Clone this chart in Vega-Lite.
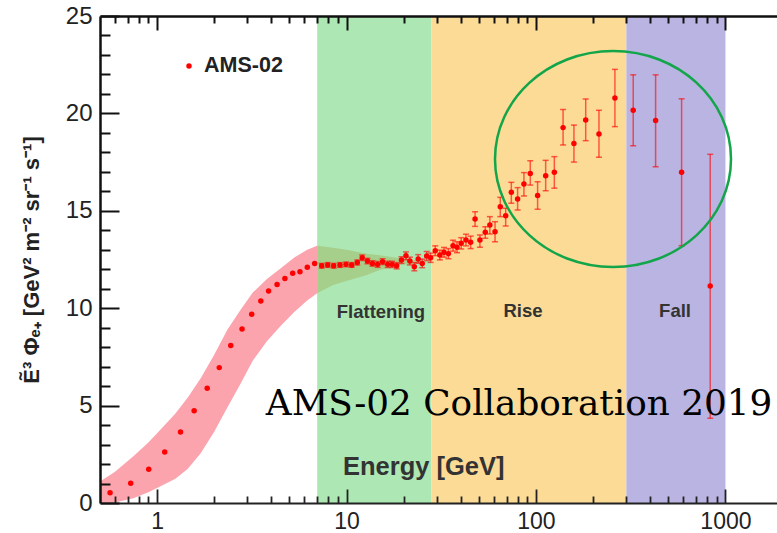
{
  "$schema": "https://vega.github.io/schema/vega-lite/v6.json",
  "width": 677,
  "height": 487,
  "autosize": {"type": "none"},
  "padding": {"left": 100, "top": 16, "right": 0, "bottom": 30},
  "background": "white",
  "datasets": {
    "bands": [
      {"lo": 7, "hi": 28, "region": "Flattening", "y0": 0, "y1": 25},
      {"lo": 28, "hi": 300, "region": "Rise", "y0": 0, "y1": 25},
      {"lo": 300, "hi": 1000, "region": "Fall", "y0": 0, "y1": 25}
    ],
    "model": [
      {"E": 0.5, "lo": 0, "hi": 1.1, "seg": "low"},
      {"E": 0.6, "lo": 0.02, "hi": 1.6, "seg": "low"},
      {"E": 0.75, "lo": 0.25, "hi": 2.4, "seg": "low"},
      {"E": 0.9, "lo": 0.55, "hi": 3.1, "seg": "low"},
      {"E": 1.05, "lo": 0.87, "hi": 3.8, "seg": "low"},
      {"E": 1.25, "lo": 1.25, "hi": 4.6, "seg": "low"},
      {"E": 1.45, "lo": 1.75, "hi": 5.4, "seg": "low"},
      {"E": 1.7, "lo": 2.55, "hi": 6.4, "seg": "low"},
      {"E": 2.0, "lo": 3.65, "hi": 7.6, "seg": "low"},
      {"E": 2.35, "lo": 4.9, "hi": 8.9, "seg": "low"},
      {"E": 2.75, "lo": 6.1, "hi": 9.9, "seg": "low"},
      {"E": 3.2, "lo": 7.3, "hi": 10.8, "seg": "low"},
      {"E": 3.8, "lo": 8.3, "hi": 11.5, "seg": "low"},
      {"E": 4.5, "lo": 9.1, "hi": 12.05, "seg": "low"},
      {"E": 5.3, "lo": 9.8, "hi": 12.6, "seg": "low"},
      {"E": 6.2, "lo": 10.4, "hi": 13.0, "seg": "low"},
      {"E": 7.0, "lo": 10.77, "hi": 13.2, "seg": "low"},
      {"E": 7.0, "lo": 10.77, "hi": 13.2, "seg": "mid"},
      {"E": 8.5, "lo": 11.19, "hi": 13.1, "seg": "mid"},
      {"E": 10, "lo": 11.4, "hi": 13.0, "seg": "mid"},
      {"E": 12.8, "lo": 11.7, "hi": 12.8, "seg": "mid"},
      {"E": 15, "lo": 11.96, "hi": 12.72, "seg": "mid"},
      {"E": 19.2, "lo": 12.22, "hi": 12.56, "seg": "mid"},
      {"E": 24, "lo": 12.32, "hi": 12.45, "seg": "mid"},
      {"E": 28, "lo": 12.38, "hi": 12.4, "seg": "mid"}
    ],
    "ams": [
      {"E": 0.565, "v": 0.53}, {"E": 0.726, "v": 1.01}, {"E": 0.904, "v": 1.73},
      {"E": 1.098, "v": 2.62}, {"E": 1.33, "v": 3.64}, {"E": 1.57, "v": 4.74},
      {"E": 1.84, "v": 5.89}, {"E": 2.13, "v": 6.95}, {"E": 2.45, "v": 8.09},
      {"E": 2.81, "v": 8.93}, {"E": 3.16, "v": 9.69}, {"E": 3.53, "v": 10.37},
      {"E": 3.88, "v": 10.88}, {"E": 4.3, "v": 11.22}, {"E": 4.73, "v": 11.53},
      {"E": 5.2, "v": 11.79}, {"E": 5.68, "v": 11.87}, {"E": 6.21, "v": 12.1},
      {"E": 6.79, "v": 12.3},
      {"E": 7.4, "v": 12.18, "lo": 12.06, "hi": 12.3},
      {"E": 7.96, "v": 12.22, "lo": 12.1, "hi": 12.34},
      {"E": 8.56, "v": 12.18, "lo": 12.06, "hi": 12.3},
      {"E": 9.24, "v": 12.22, "lo": 12.1, "hi": 12.34},
      {"E": 9.94, "v": 12.25, "lo": 12.13, "hi": 12.37},
      {"E": 10.65, "v": 12.22, "lo": 12.1, "hi": 12.34},
      {"E": 11.4, "v": 12.35, "lo": 12.22, "hi": 12.48},
      {"E": 12.1, "v": 12.59, "lo": 12.45, "hi": 12.73},
      {"E": 12.9, "v": 12.42, "lo": 12.28, "hi": 12.56},
      {"E": 13.7, "v": 12.3, "lo": 12.16, "hi": 12.44},
      {"E": 14.6, "v": 12.25, "lo": 12.1, "hi": 12.4},
      {"E": 15.5, "v": 12.39, "lo": 12.24, "hi": 12.54},
      {"E": 16.5, "v": 12.25, "lo": 12.09, "hi": 12.41},
      {"E": 17.4, "v": 12.25, "lo": 12.09, "hi": 12.41},
      {"E": 18.4, "v": 12.18, "lo": 12.02, "hi": 12.34},
      {"E": 19.5, "v": 12.47, "lo": 12.3, "hi": 12.64},
      {"E": 20.6, "v": 12.69, "lo": 12.49, "hi": 12.89},
      {"E": 21.6, "v": 12.42, "lo": 12.22, "hi": 12.62},
      {"E": 22.8, "v": 12.13, "lo": 11.92, "hi": 12.34},
      {"E": 23.9, "v": 12.53, "lo": 12.31, "hi": 12.75},
      {"E": 25.1, "v": 12.3, "lo": 12.08, "hi": 12.52},
      {"E": 26.5, "v": 12.68, "lo": 12.45, "hi": 12.91},
      {"E": 27.8, "v": 12.59, "lo": 12.35, "hi": 12.83},
      {"E": 29.4, "v": 12.95, "lo": 12.7, "hi": 13.2},
      {"E": 31.1, "v": 12.73, "lo": 12.48, "hi": 12.98},
      {"E": 32.7, "v": 12.87, "lo": 12.62, "hi": 13.12},
      {"E": 34.5, "v": 12.8, "lo": 12.54, "hi": 13.06},
      {"E": 36.5, "v": 13.21, "lo": 12.93, "hi": 13.49},
      {"E": 38.3, "v": 13.13, "lo": 12.85, "hi": 13.41},
      {"E": 40.3, "v": 13.33, "lo": 13.04, "hi": 13.62},
      {"E": 42.7, "v": 13.5, "lo": 13.2, "hi": 13.8},
      {"E": 45.2, "v": 13.38, "lo": 13.06, "hi": 13.7},
      {"E": 47.7, "v": 14.58, "lo": 14.2, "hi": 14.95},
      {"E": 50.6, "v": 13.5, "lo": 13.13, "hi": 13.76},
      {"E": 54, "v": 13.9, "lo": 13.59, "hi": 14.18},
      {"E": 57.1, "v": 14.27, "lo": 13.81, "hi": 14.7},
      {"E": 60.8, "v": 13.93, "lo": 13.41, "hi": 14.44},
      {"E": 64.8, "v": 15.21, "lo": 14.7, "hi": 15.69},
      {"E": 69.2, "v": 14.75, "lo": 14.22, "hi": 15.13},
      {"E": 74.1, "v": 15.95, "lo": 15.39, "hi": 16.46},
      {"E": 80, "v": 15.6, "lo": 15.04, "hi": 16.19},
      {"E": 86.4, "v": 16.38, "lo": 15.76, "hi": 16.96},
      {"E": 93.3, "v": 16.92, "lo": 16.32, "hi": 17.57},
      {"E": 102, "v": 15.78, "lo": 15.08, "hi": 16.49},
      {"E": 112.5, "v": 16.8, "lo": 16.03, "hi": 17.59},
      {"E": 125, "v": 16.98, "lo": 16.16, "hi": 17.78},
      {"E": 139, "v": 19.27, "lo": 18.38, "hi": 20.2},
      {"E": 158.6, "v": 18.45, "lo": 17.5, "hi": 19.4},
      {"E": 183, "v": 19.66, "lo": 18.6, "hi": 20.74},
      {"E": 215, "v": 18.94, "lo": 17.75, "hi": 20.16},
      {"E": 261, "v": 20.79, "lo": 19.32, "hi": 22.26},
      {"E": 326, "v": 20.16, "lo": 18.34, "hi": 21.98},
      {"E": 428, "v": 19.63, "lo": 17.26, "hi": 21.98},
      {"E": 587, "v": 16.98, "lo": 13.21, "hi": 20.75},
      {"E": 831, "v": 11.14, "lo": 4.35, "hi": 17.9}
    ],
    "labels": [
      {"E": 15.2, "v": 9.8, "t": "Flattening", "kind": "region"},
      {"E": 85.4, "v": 9.86, "t": "Rise", "kind": "region"},
      {"E": 542, "v": 9.86, "t": "Fall", "kind": "region"},
      {"E": 9.58, "v": 1.85, "t": "Energy [GeV]", "kind": "xtitle"},
      {"E": 81.4, "v": 4.52, "t": "AMS-02 Collaboration 2019", "kind": "credit"},
      {"E": 1.77, "v": 22.43, "t": "AMS-02", "kind": "legend"}
    ],
    "legenddot": [{"E": 1.475, "v": 22.43}],
    "highlight": [{"E": 255, "v": 17.66}]
  },
  "layer": [
    {
      "data": {"name": "bands"},
      "mark": {"type": "rect"},
      "encoding": {
        "x": {"field": "lo", "type": "quantitative", "scale": {"type": "log", "domain": [0.5, 1871], "nice": false},
          "axis": {"orient": "bottom", "values": [0.6, 0.7, 0.8, 0.9, 1, 2, 3, 4, 5, 6, 7, 8, 9, 10, 20, 30, 40, 50, 60, 70, 80, 90, 100, 200, 300, 400, 500, 600, 700, 800, 900, 1000], "format": "d",
            "labelExpr": "(datum.value == 1 || datum.value == 10 || datum.value == 100 || datum.value == 1000) ? datum.label : ''",
            "tickSize": {"condition": {"test": "datum.value == 1 || datum.value == 10 || datum.value == 100 || datum.value == 1000", "value": -14}, "value": -7},
            "domainColor": "#222222", "domainWidth": 2, "tickColor": "#222222", "tickWidth": 1.8,
            "labelPadding": 21, "title": null, "zindex": 2, "labelOverlap": false, "labelFlush": false}},
        "x2": {"field": "hi"},
        "y": {"field": "y0", "type": "quantitative", "scale": {"domain": [0, 25], "nice": false, "zero": true},
          "axis": {"orient": "left", "values": [0, 1, 2, 3, 4, 5, 6, 7, 8, 9, 10, 11, 12, 13, 14, 15, 16, 17, 18, 19, 20, 21, 22, 23, 24, 25],
            "labelExpr": "datum.value % 5 == 0 ? datum.label : ''",
            "tickSize": {"condition": {"test": "datum.value % 5 == 0", "value": -19}, "value": -10},
            "domainColor": "#111111", "domainWidth": 2.5, "tickColor": "#111111", "tickWidth": 2,
            "labelPadding": 27, "labelFontSize": 24, "zindex": 2, "labelOverlap": false, "labelFlush": false,
            "title": "Ẽ³ Φₑ₊ [GeV² m⁻² sr⁻¹ s⁻¹]", "titleFont": "Liberation Sans", "titleFontSize": 22, "titleFontWeight": "bold", "titleColor": "#222", "titlePadding": 22}},
        "y2": {"field": "y1"},
        "color": {"field": "region", "type": "nominal", "scale": {"domain": ["Flattening", "Rise", "Fall"], "range": ["#ade8b4", "#fbdb96", "#b9b4e1"]}, "legend": null}
      }
    },
    {
      "data": {"name": "legenddot"},
      "mark": {"type": "point", "filled": true, "size": 30, "color": "#ff0000", "opacity": 1},
      "encoding": {
        "x": {"field": "E", "type": "quantitative", "scale": {"type": "log", "domain": [0.5, 1871], "nice": false},
          "axis": {"orient": "top", "values": [0.6, 0.7, 0.8, 0.9, 1, 2, 3, 4, 5, 6, 7, 8, 9, 10, 20, 30, 40, 50, 60, 70, 80, 90, 100, 200, 300, 400, 500, 600, 700, 800, 900, 1000],
            "tickSize": {"condition": {"test": "datum.value == 1 || datum.value == 10 || datum.value == 100 || datum.value == 1000", "value": -14}, "value": -7},
            "domainColor": "#111111", "domainWidth": 2.5, "tickColor": "#111111", "tickWidth": 2,
            "labels": false, "title": null, "zindex": 2}},
        "y": {"field": "v", "type": "quantitative", "scale": {"domain": [0, 25], "nice": false}, "axis": null}
      }
    },
    {
      "data": {"name": "model"},
      "mark": {"type": "area", "opacity": 1},
      "encoding": {
        "x": {"field": "E", "type": "quantitative", "scale": {"type": "log", "domain": [0.5, 1871], "nice": false}, "axis": null},
        "y": {"field": "lo", "type": "quantitative", "scale": {"domain": [0, 25], "nice": false, "zero": true}, "axis": null},
        "y2": {"field": "hi"},
        "color": {"field": "seg", "type": "nominal", "scale": {"domain": ["low", "mid"], "range": ["#fba4ae", "#a6cf8c"]}, "legend": null}
      }
    },
    {
      "data": {"name": "ams"},
      "transform": [{"filter": "isValid(datum.lo)"}],
      "mark": {"type": "errorbar", "ticks": true, "size": 6, "thickness": 1.5, "color": "#ff0000", "opacity": 0.6},
      "encoding": {
        "x": {"field": "E", "type": "quantitative", "scale": {"type": "log", "domain": [0.5, 1871], "nice": false}, "axis": null},
        "y": {"field": "lo", "type": "quantitative", "scale": {"domain": [0, 25], "nice": false}, "axis": null},
        "y2": {"field": "hi"}
      }
    },
    {
      "data": {"name": "ams"},
      "mark": {"type": "point", "filled": true, "size": 30, "color": "#ff0000", "opacity": 1},
      "encoding": {
        "x": {"field": "E", "type": "quantitative", "scale": {"type": "log", "domain": [0.5, 1871], "nice": false}, "axis": null},
        "y": {"field": "v", "type": "quantitative", "scale": {"domain": [0, 25], "nice": false}, "axis": null}
      }
    },
    {
      "data": {"name": "highlight"},
      "mark": {"type": "point", "filled": false, "shape": "M 1 0 C 1 0.5054 0.5523 0.915 0 0.915 C -0.5523 0.915 -1 0.5054 -1 0 C -1 -0.5054 -0.5523 -0.915 0 -0.915 C 0.5523 -0.915 1 -0.5054 1 0 Z", "size": 55696, "stroke": "#13a54a", "strokeWidth": 2.5, "opacity": 1},
      "encoding": {
        "x": {"field": "E", "type": "quantitative", "scale": {"type": "log", "domain": [0.5, 1871], "nice": false}, "axis": null},
        "y": {"field": "v", "type": "quantitative", "scale": {"domain": [0, 25], "nice": false}, "axis": null}
      }
    },
    {
      "data": {"name": "labels"},
      "transform": [{"filter": "datum.kind == 'region'"}],
      "mark": {"type": "text", "font": "Liberation Sans", "fontSize": 18.5, "fontWeight": "bold", "color": "#333", "align": "center", "baseline": "middle"},
      "encoding": {
        "x": {"field": "E", "type": "quantitative", "scale": {"type": "log", "domain": [0.5, 1871], "nice": false}, "axis": null},
        "y": {"field": "v", "type": "quantitative", "scale": {"domain": [0, 25], "nice": false}, "axis": null},
        "text": {"field": "t"}
      }
    },
    {
      "data": {"name": "labels"},
      "transform": [{"filter": "datum.kind == 'xtitle'"}],
      "mark": {"type": "text", "font": "Liberation Sans", "fontSize": 25.5, "fontWeight": "bold", "color": "#333", "align": "left", "baseline": "middle"},
      "encoding": {
        "x": {"field": "E", "type": "quantitative", "scale": {"type": "log", "domain": [0.5, 1871], "nice": false}, "axis": null},
        "y": {"field": "v", "type": "quantitative", "scale": {"domain": [0, 25], "nice": false}, "axis": null},
        "text": {"field": "t"}
      }
    },
    {
      "data": {"name": "labels"},
      "transform": [{"filter": "datum.kind == 'credit'"}],
      "mark": {"type": "text", "font": "DejaVu Serif", "fontSize": 35.8, "color": "#000", "align": "center", "baseline": "alphabetic"},
      "encoding": {
        "x": {"field": "E", "type": "quantitative", "scale": {"type": "log", "domain": [0.5, 1871], "nice": false}, "axis": null},
        "y": {"field": "v", "type": "quantitative", "scale": {"domain": [0, 25], "nice": false}, "axis": null},
        "text": {"field": "t"}
      }
    },
    {
      "data": {"name": "labels"},
      "transform": [{"filter": "datum.kind == 'legend'"}],
      "mark": {"type": "text", "font": "Liberation Sans", "fontSize": 21.5, "fontWeight": "bold", "color": "#222", "align": "left", "baseline": "middle"},
      "encoding": {
        "x": {"field": "E", "type": "quantitative", "scale": {"type": "log", "domain": [0.5, 1871], "nice": false}, "axis": null},
        "y": {"field": "v", "type": "quantitative", "scale": {"domain": [0, 25], "nice": false}, "axis": null},
        "text": {"field": "t"}
      }
    }
  ],
  "resolve": {"axis": {"x": "independent", "y": "independent"}, "scale": {"color": "independent"}},
  "config": {
    "view": {"stroke": null},
    "axis": {
      "grid": false,
      "labelColor": "#222",
      "labelFont": "Liberation Sans",
      "labelFontSize": 23
    }
  }
}
